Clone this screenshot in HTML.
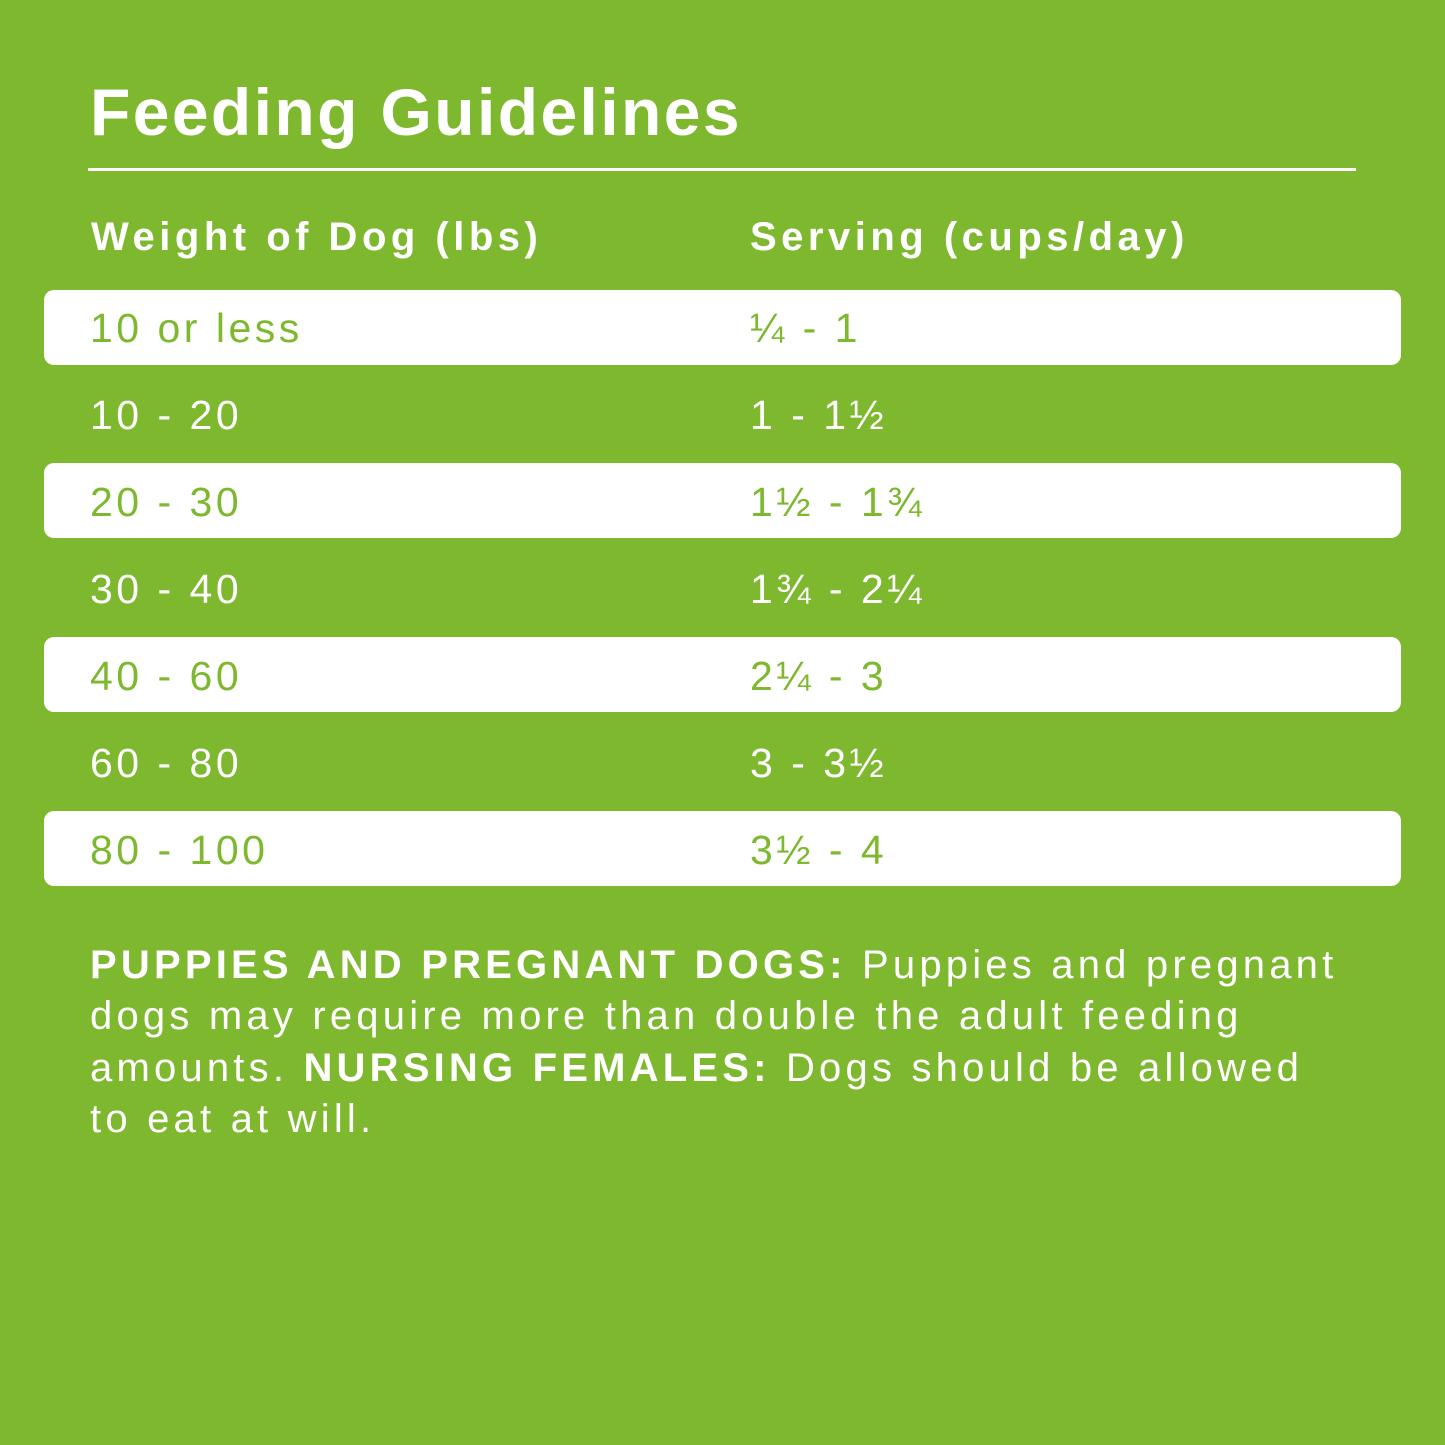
<!DOCTYPE html>
<html><head><style>
body{margin:0;width:1445px;height:1445px;background:#7db82f;position:relative;overflow:hidden;font-family:"Liberation Sans",sans-serif;color:#fff}
.a{position:absolute;white-space:nowrap}
.t{left:90px;top:74px;font-size:66px;font-weight:bold;letter-spacing:2.4px}
.hr{position:absolute;left:88px;top:168px;width:1268px;height:3px;background:#fff}
.h{font-size:40px;font-weight:bold;letter-spacing:4.5px;top:215px}
.box{position:absolute;left:44px;width:1357px;height:75px;background:#fff;border-radius:10px}
.r{font-size:41px;letter-spacing:3.5px;line-height:50px}
.g{color:#7db82f}
.p{left:90px;top:940px;font-size:40px;line-height:51.3px;letter-spacing:4.2px}
</style></head><body>
<div class="a t">Feeding Guidelines</div>
<div class="hr"></div>
<div class="a h" style="left:91px">Weight of Dog (lbs)</div>
<div class="a h" style="left:750px">Serving (cups/day)</div>
<div class="box" style="top:290px"></div>
<div class="box" style="top:463px"></div>
<div class="box" style="top:637px"></div>
<div class="box" style="top:811px"></div>
<div class="a r g" style="left:90px;top:303px">10 or less</div><div class="a r g" style="left:750px;top:303px">¼ - 1</div>
<div class="a r" style="left:90px;top:390px">10 - 20</div><div class="a r" style="left:750px;top:390px">1 - 1½</div>
<div class="a r g" style="left:90px;top:477px">20 - 30</div><div class="a r g" style="left:750px;top:477px">1½ - 1¾</div>
<div class="a r" style="left:90px;top:564px">30 - 40</div><div class="a r" style="left:750px;top:564px">1¾ - 2¼</div>
<div class="a r g" style="left:90px;top:651px">40 - 60</div><div class="a r g" style="left:750px;top:651px">2¼ - 3</div>
<div class="a r" style="left:90px;top:738px">60 - 80</div><div class="a r" style="left:750px;top:738px">3 - 3½</div>
<div class="a r g" style="left:90px;top:825px">80 - 100</div><div class="a r g" style="left:750px;top:825px">3½ - 4</div>
<div class="a p"><b>PUPPIES AND PREGNANT DOGS:</b> Puppies and pregnant<br>dogs may require more than double the adult feeding<br>amounts. <b>NURSING FEMALES:</b> Dogs should be allowed<br>to eat at will.</div>
</body></html>
